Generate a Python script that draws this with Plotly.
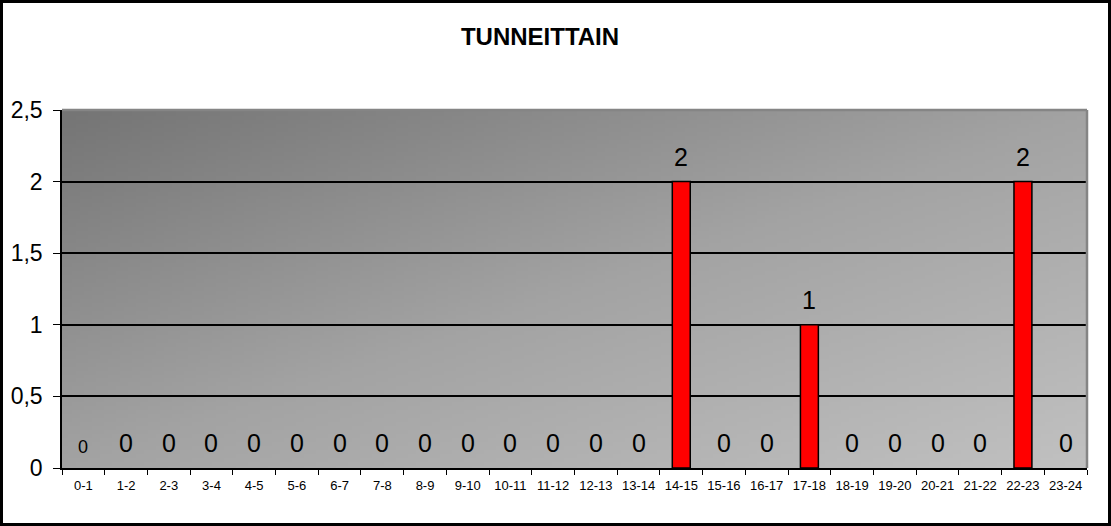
import base64
import struct
import zlib

import numpy as np
import plotly.graph_objects as go

# data
hours = ["0-1", "1-2", "2-3", "3-4", "4-5", "5-6", "6-7", "7-8", "8-9", "9-10",
         "10-11", "11-12", "12-13", "13-14", "14-15", "15-16", "16-17", "17-18",
         "18-19", "19-20", "20-21", "21-22", "22-23", "23-24"]
counts = [0, 0, 0, 0, 0, 0, 0, 0, 0, 0, 0, 0, 0, 0, 2, 0, 0, 1, 0, 0, 0, 0, 2, 0]
y_ticks = [0, 0.5, 1, 1.5, 2, 2.5]

W, H = 1111, 526
ML, MR, MT, MB = 62, 24, 110, 58
PW, PH = W - ML - MR, H - MT - MB
FONT = "Arial, Liberation Sans, sans-serif"


def gradient_png(w=256, h=90):
    # diagonal grey gradient, dark top-left -> light bottom-right
    u = np.linspace(0, 1, w)[None, :]
    v = np.linspace(0, 1, h)[:, None]
    t = (u + v) / 2
    g = np.interp(t, [0, 0.5, 1], [117, 163, 193]).astype(np.uint8)
    raw = b"".join(b"\x00" + row.tobytes() for row in g)

    def chunk(tag, data):
        c = tag + data
        return struct.pack(">I", len(data)) + c + struct.pack(">I", zlib.crc32(c) & 0xffffffff)

    png = b"\x89PNG\r\n\x1a\n"
    png += chunk(b"IHDR", struct.pack(">IIBBBBB", w, h, 8, 0, 0, 0, 0))
    png += chunk(b"IDAT", zlib.compress(raw, 9))
    png += chunk(b"IEND", b"")
    return "data:image/png;base64," + base64.b64encode(png).decode()


fig = go.Figure()
fig.add_trace(go.Bar(
    x=hours, y=counts,
    marker=dict(color="#ff0000",
                line=dict(color="black", width=[1.5 if c else 0 for c in counts])),
    hoverinfo="x+y",
))

for i, (h, c) in enumerate(zip(hours, counts)):
    fig.add_annotation(
        x=h, y=c, text=str(c), showarrow=False,
        yanchor="bottom", yshift=9,
        font=dict(family=FONT, size=18 if i == 0 else 25, color="black"),
    )

fig.add_layout_image(
    source=gradient_png(), xref="x domain", yref="y domain",
    x=0, y=1, sizex=1, sizey=1, xanchor="left", yanchor="top",
    sizing="stretch", layer="below",
)

# grey plot-area border on top and right
fig.add_shape(type="line", xref="x domain", yref="y domain", x0=0, x1=1, y0=1, y1=1,
              line=dict(color="#858585", width=2.5), layer="above")
fig.add_shape(type="line", xref="x domain", yref="y domain", x0=1, x1=1, y0=0, y1=1,
              line=dict(color="#858585", width=2.5), layer="above")

# outer chart frame
fig.add_shape(type="rect", xref="paper", yref="paper",
              x0=(1.5 - ML) / PW, x1=(W - 1.5 - ML) / PW,
              y0=(PH - (H - 1.5 - MT)) / PH, y1=(PH - (1.5 - MT)) / PH,
              line=dict(color="black", width=3), fillcolor="rgba(0,0,0,0)", layer="above")

fig.update_layout(
    width=W, height=H,
    margin=dict(l=ML, r=MR, t=MT, b=MB),
    paper_bgcolor="white",
    plot_bgcolor="rgba(0,0,0,0)",
    separators=", ",
    bargap=0.58,
    showlegend=False,
    font=dict(family=FONT, color="black"),
    title=dict(text="<b>TUNNEITTAIN</b>", x=540 / W, xref="container", xanchor="center",
               y=1 - 37 / H, yref="container", yanchor="middle",
               font=dict(family=FONT, size=24, color="black")),
)

fig.update_xaxes(
    type="category", tickson="boundaries", ticks="outside", ticklen=5,
    tickcolor="black", tickwidth=1, showline=True, linecolor="black", linewidth=1.5,
    showgrid=False, tickfont=dict(size=13, color="black"), ticklabelstandoff=5,
)
fig.update_yaxes(
    range=[0, 2.5], tickvals=y_ticks, ticks="outside", ticklen=7,
    tickcolor="black", tickwidth=1, showline=True, linecolor="black", linewidth=1.5,
    showgrid=True, gridcolor="black", gridwidth=1.5, zeroline=False,
    tickfont=dict(size=23, color="black"), ticklabelstandoff=6,
)

fig.write_html("out.html", config={"displayModeBar": False},
               post_script="document.body.style.margin='0';")
